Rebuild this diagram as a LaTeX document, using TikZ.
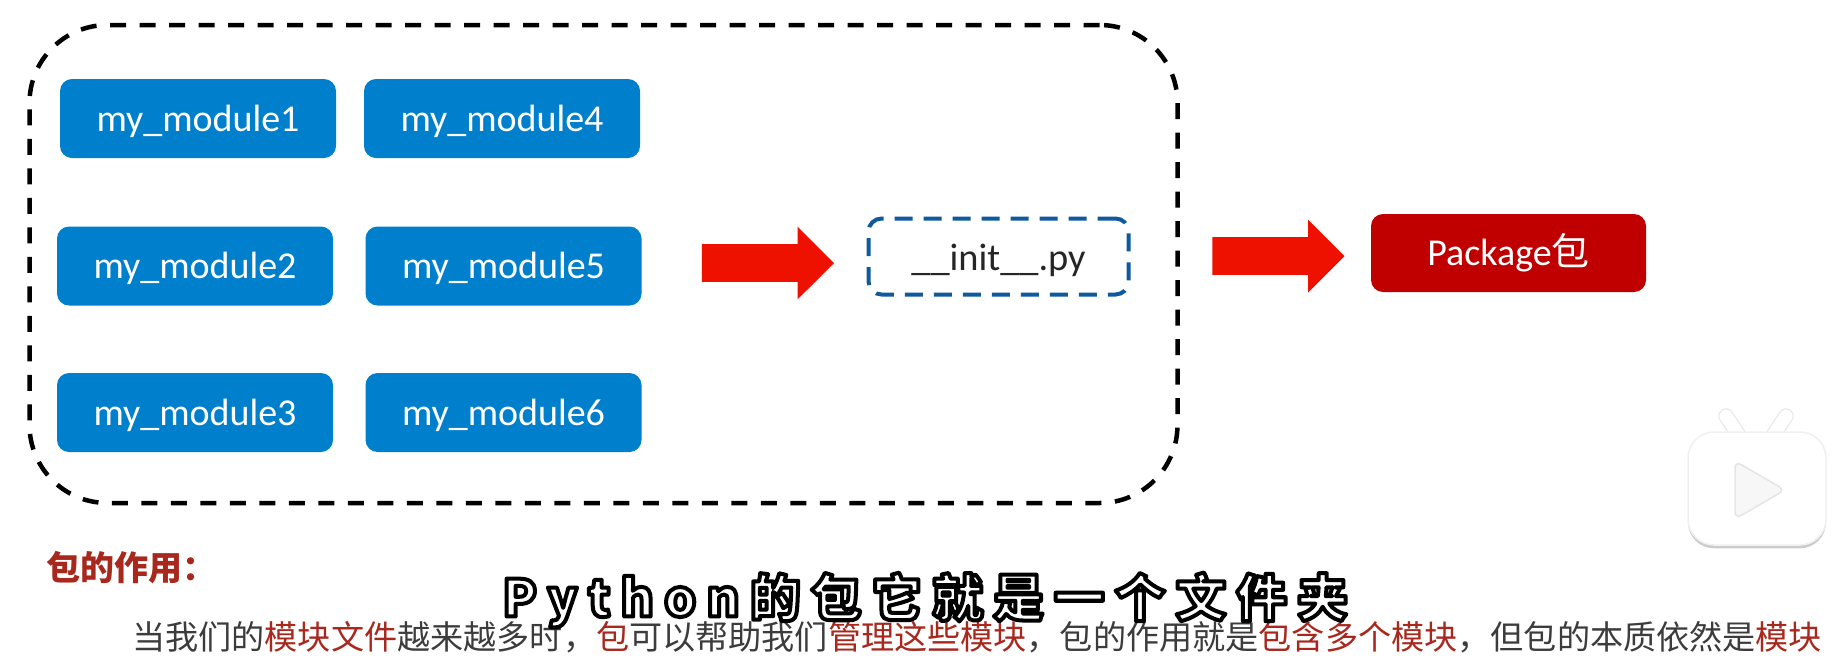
\documentclass[tikz,border=0pt]{standalone}
\usepackage{fontspec}
\usetikzlibrary{shapes.arrows,shadows}
\setmainfont{Carlito}
\newfontfamily\cjkfont{Noto Sans CJK SC}
\newfontfamily\subfont[LetterSpace=20]{Noto Sans CJK SC}
\def\pxu{0.75pt}
\definecolor{modblue}{HTML}{0080CC}
\definecolor{arrowred}{HTML}{EE1100}
\definecolor{pkgred}{HTML}{C00000}
\definecolor{initblue}{HTML}{0F5A9C}
\definecolor{notered}{HTML}{A8281E}
\definecolor{notegray}{HTML}{3C3C3C}
\tikzset{
  module/.style={rectangle,rounded corners=12*\pxu,fill=modblue,text=white,
    minimum width=276*\pxu,minimum height=79*\pxu,inner sep=0pt,text height=24.6pt,text depth=5.5pt,
    font=\fontsize{28.5pt}{30pt}\selectfont},
  groupbox/.style={rectangle,draw=black,dashed,dash pattern=on 16*\pxu off 13.5*\pxu,
    line width=4.5*\pxu,rounded corners=78*\pxu,minimum width=1148*\pxu,minimum height=478*\pxu,inner sep=0pt},
  initbox/.style={rectangle,draw=initblue,dash pattern=on 18*\pxu off 11*\pxu,
    line width=4*\pxu,rounded corners=13*\pxu,minimum width=260*\pxu,minimum height=76*\pxu,inner sep=0pt,
    text=black!85,text height=26pt,text depth=5.5pt,font=\fontsize{28.8pt}{30pt}\selectfont},
  pkgbox/.style={rectangle,rounded corners=12*\pxu,fill=pkgred,text=white,
    minimum width=275*\pxu,minimum height=78*\pxu,inner sep=0pt,text height=24pt,text depth=5.5pt,
    font=\fontsize{28.5pt}{30pt}\selectfont},
  bigarrow/.style={single arrow,fill=arrowred,draw=none,single arrow head extend=17.5*\pxu,
    single arrow tip angle=90,single arrow head indent=0pt,inner xsep=0pt,inner ysep=18.7*\pxu,
    minimum height=132*\pxu,text width=0pt,anchor=center},
  notehead/.style={anchor=west,inner sep=0pt,text=notered,font=\cjkfont\bfseries\fontsize{25.5pt}{28pt}\selectfont},
  notebody/.style={anchor=west,inner sep=0pt,text=notegray,font=\cjkfont\fontsize{24.85pt}{28pt}\selectfont},
  subtitle/.style={anchor=center,inner sep=0pt,font=\subfont\bfseries\fontsize{38pt}{40pt}\selectfont},
  logobody/.style={rectangle,fill=white,draw=black!6,line width=1.5*\pxu,rounded corners=26*\pxu,minimum width=138*\pxu,minimum height=113*\pxu,inner sep=0pt,
    drop shadow={shadow xshift=0pt,shadow yshift=-2.5pt,fill=black,opacity=.2}},
  logoear/.style={line width=13*\pxu,line cap=round,draw=white},
  earshade/.style={line width=15.5*\pxu,line cap=round,draw=black!9}
}
\newcommand{\rd}[1]{\textcolor{notered}{#1}}
\begin{document}
\begin{tikzpicture}[x=0.75pt,y=-0.75pt]
\useasboundingbox (0,0) rectangle (1846,658);
\fill[white] (0,0) rectangle (1846,658);

\node[groupbox] (group) at (603.5,264) {};

\node[module] (m1) at (198,118.5) {my\_module1};
\node[module] (m4) at (502,118.5) {my\_module4};
\node[module] (m2) at (195,266) {my\_module2};
\node[module] (m5) at (503.5,266) {my\_module5};
\node[module] (m3) at (195,412.5) {my\_module3};
\node[module] (m6) at (503.5,412.5) {my\_module6};

\node[bigarrow] (a1) at (758.5,263) {};
\node[initbox] (init) at (998.5,256.5) {\_\_init\_\_.py};
\node[bigarrow] (a2) at (1269,256) {};
\node[pkgbox] (pkg) at (1508.5,253) {Package{\cjkfont 包}};

% platform logo
\coordinate (earL) at (1726,416);
\coordinate (earLb) at (1742,440);
\coordinate (earR) at (1786,416);
\coordinate (earRb) at (1770,440);
\draw[earshade] (earL) -- (earLb);
\draw[earshade] (earR) -- (earRb);
\draw[logoear] (earL) -- (earLb);
\draw[logoear] (earR) -- (earRb);
\node[logobody] (logo) at (1757,488.5) {};
\draw[draw=black!10,fill=black!3,line width=1.5*\pxu,line join=round,rounded corners=7*\pxu]
  (1735,461) -- (1785,490) -- (1735,519) -- cycle;

\node[notehead] (head) at (46,568) {包的作用：};
\node[notebody] (body) at (132,637) {当我们的\rd{模块文件}越来越多时，\rd{包}可以帮助我们\rd{管理这些模块}，包的作用就是\rd{包含多个模块}，但包的本质依然是\rd{模块}};

\node[subtitle] (sub) at (925,600) {\color{white}\special{pdf:code 1 j 3 w 0 0 0 RG 1 1 1 rg 2 Tr}Python的包它就是一个文件夹\special{pdf:code 0 Tr 1 w 0 j}};
\end{tikzpicture}
\end{document}
